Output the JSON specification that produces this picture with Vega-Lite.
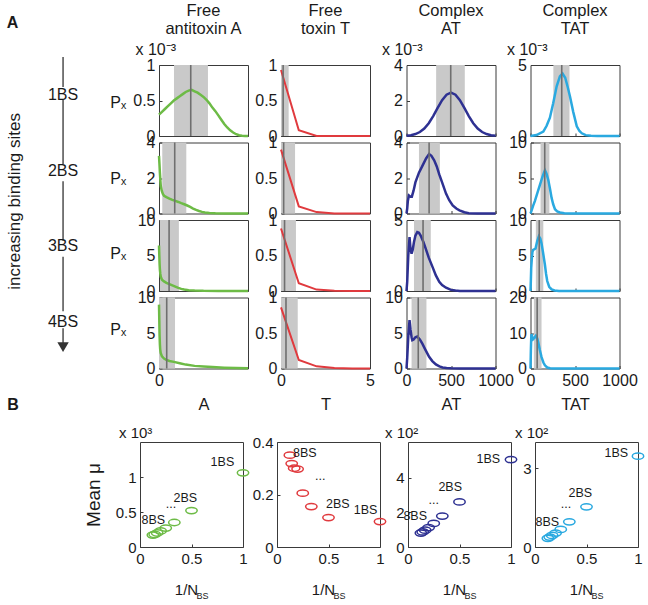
{
"$schema":"https://vega.github.io/schema/vega-lite/v6.json",
"padding":{"left":0,"top":2,"right":0,"bottom":0},
"config":{
 "font":"Liberation Sans",
 "view":{"stroke":"#3a3a3a","strokeWidth":1},
 "axis":{"grid":false,"domain":false,"format":"~r","tickColor":"#3a3a3a","tickSize":-3,"labelPadding":7,"labelFontSize":16,"labelColor":"#1a1a1a","labelFlush":false,"labelOverlap":false,"titleColor":"#1a1a1a","titleFontWeight":"normal","titleFontSize":16.5},
 "title":{"fontSize":16.5,"fontWeight":"normal","color":"#1a1a1a","offset":4,"lineHeight":18},
 "text":{"color":"#1a1a1a"}
},
"datasets":{
 "curves":[
  {"s":"A","n":1,"x":0,"y":0.30},{"s":"A","n":1,"x":100,"y":0.34},{"s":"A","n":1,"x":200,"y":0.38},{"s":"A","n":1,"x":300,"y":0.42},{"s":"A","n":1,"x":400,"y":0.46},{"s":"A","n":1,"x":500,"y":0.50},{"s":"A","n":1,"x":600,"y":0.53},{"s":"A","n":1,"x":700,"y":0.56},{"s":"A","n":1,"x":800,"y":0.59},{"s":"A","n":1,"x":900,"y":0.62},{"s":"A","n":1,"x":1000,"y":0.64},{"s":"A","n":1,"x":1100,"y":0.65},{"s":"A","n":1,"x":1200,"y":0.63},{"s":"A","n":1,"x":1300,"y":0.61},{"s":"A","n":1,"x":1400,"y":0.58},{"s":"A","n":1,"x":1500,"y":0.55},{"s":"A","n":1,"x":1600,"y":0.51},{"s":"A","n":1,"x":1700,"y":0.46},{"s":"A","n":1,"x":1800,"y":0.40},{"s":"A","n":1,"x":1900,"y":0.35},{"s":"A","n":1,"x":2000,"y":0.29},{"s":"A","n":1,"x":2100,"y":0.23},{"s":"A","n":1,"x":2200,"y":0.17},{"s":"A","n":1,"x":2300,"y":0.12},{"s":"A","n":1,"x":2400,"y":0.08},{"s":"A","n":1,"x":2500,"y":0.05},{"s":"A","n":1,"x":2600,"y":0.025},{"s":"A","n":1,"x":2700,"y":0.01},{"s":"A","n":1,"x":2800,"y":0.004},{"s":"A","n":1,"x":2900,"y":0.001},{"s":"A","n":1,"x":3000,"y":0},
  {"s":"A","n":2,"x":0,"y":3.25},{"s":"A","n":2,"x":15,"y":2.8},{"s":"A","n":2,"x":30,"y":2.3},{"s":"A","n":2,"x":45,"y":1.9},{"s":"A","n":2,"x":60,"y":1.55},{"s":"A","n":2,"x":90,"y":1.3},{"s":"A","n":2,"x":130,"y":1.1},{"s":"A","n":2,"x":170,"y":1.0},{"s":"A","n":2,"x":250,"y":0.92},{"s":"A","n":2,"x":350,"y":0.84},{"s":"A","n":2,"x":450,"y":0.77},{"s":"A","n":2,"x":550,"y":0.71},{"s":"A","n":2,"x":650,"y":0.65},{"s":"A","n":2,"x":750,"y":0.58},{"s":"A","n":2,"x":850,"y":0.52},{"s":"A","n":2,"x":950,"y":0.45},{"s":"A","n":2,"x":1050,"y":0.37},{"s":"A","n":2,"x":1150,"y":0.28},{"s":"A","n":2,"x":1250,"y":0.2},{"s":"A","n":2,"x":1350,"y":0.14},{"s":"A","n":2,"x":1450,"y":0.09},{"s":"A","n":2,"x":1550,"y":0.06},{"s":"A","n":2,"x":1700,"y":0.03},{"s":"A","n":2,"x":1900,"y":0.01},{"s":"A","n":2,"x":2200,"y":0},{"s":"A","n":2,"x":3000,"y":0},
  {"s":"A","n":3,"x":0,"y":6.4},{"s":"A","n":3,"x":10,"y":5.0},{"s":"A","n":3,"x":20,"y":3.8},{"s":"A","n":3,"x":30,"y":3.0},{"s":"A","n":3,"x":45,"y":2.4},{"s":"A","n":3,"x":60,"y":2.0},{"s":"A","n":3,"x":100,"y":1.6},{"s":"A","n":3,"x":170,"y":1.35},{"s":"A","n":3,"x":250,"y":1.15},{"s":"A","n":3,"x":350,"y":0.98},{"s":"A","n":3,"x":450,"y":0.8},{"s":"A","n":3,"x":550,"y":0.62},{"s":"A","n":3,"x":650,"y":0.45},{"s":"A","n":3,"x":750,"y":0.3},{"s":"A","n":3,"x":850,"y":0.2},{"s":"A","n":3,"x":1000,"y":0.12},{"s":"A","n":3,"x":1200,"y":0.06},{"s":"A","n":3,"x":1500,"y":0.02},{"s":"A","n":3,"x":2000,"y":0},{"s":"A","n":3,"x":3000,"y":0},
  {"s":"A","n":4,"x":0,"y":9.0},{"s":"A","n":4,"x":5,"y":8.0},{"s":"A","n":4,"x":10,"y":6.8},{"s":"A","n":4,"x":15,"y":5.6},{"s":"A","n":4,"x":20,"y":4.6},{"s":"A","n":4,"x":30,"y":3.4},{"s":"A","n":4,"x":40,"y":2.7},{"s":"A","n":4,"x":57,"y":2.2},{"s":"A","n":4,"x":100,"y":1.7},{"s":"A","n":4,"x":170,"y":1.4},{"s":"A","n":4,"x":250,"y":1.2},{"s":"A","n":4,"x":350,"y":1.05},{"s":"A","n":4,"x":500,"y":0.93},{"s":"A","n":4,"x":700,"y":0.75},{"s":"A","n":4,"x":900,"y":0.55},{"s":"A","n":4,"x":1200,"y":0.37},{"s":"A","n":4,"x":1500,"y":0.28},{"s":"A","n":4,"x":1800,"y":0.2},{"s":"A","n":4,"x":2200,"y":0.12},{"s":"A","n":4,"x":2600,"y":0.06},{"s":"A","n":4,"x":3000,"y":0.03},
  {"s":"T","n":1,"x":0,"y":0.93},{"s":"T","n":1,"x":1,"y":0.08},{"s":"T","n":1,"x":2,"y":0},{"s":"T","n":1,"x":3,"y":0},{"s":"T","n":1,"x":4,"y":0},{"s":"T","n":1,"x":5,"y":0},
  {"s":"T","n":2,"x":0,"y":0.9},{"s":"T","n":2,"x":1,"y":0.1},{"s":"T","n":2,"x":2,"y":0.02},{"s":"T","n":2,"x":3,"y":0},{"s":"T","n":2,"x":4,"y":0},{"s":"T","n":2,"x":5,"y":0},
  {"s":"T","n":3,"x":0,"y":0.88},{"s":"T","n":3,"x":1,"y":0.11},{"s":"T","n":3,"x":2,"y":0.02},{"s":"T","n":3,"x":3,"y":0.005},{"s":"T","n":3,"x":4,"y":0},{"s":"T","n":3,"x":5,"y":0},
  {"s":"T","n":4,"x":0,"y":0.86},{"s":"T","n":4,"x":1,"y":0.12},{"s":"T","n":4,"x":2,"y":0.03},{"s":"T","n":4,"x":3,"y":0.008},{"s":"T","n":4,"x":4,"y":0},{"s":"T","n":4,"x":5,"y":0},
  {"s":"AT","n":1,"x":0,"y":0.019},{"s":"AT","n":1,"x":50,"y":0.047},{"s":"AT","n":1,"x":100,"y":0.108},{"s":"AT","n":1,"x":150,"y":0.224},{"s":"AT","n":1,"x":200,"y":0.42},{"s":"AT","n":1,"x":250,"y":0.72},{"s":"AT","n":1,"x":300,"y":1.12},{"s":"AT","n":1,"x":350,"y":1.58},{"s":"AT","n":1,"x":400,"y":2.02},{"s":"AT","n":1,"x":450,"y":2.33},{"s":"AT","n":1,"x":500,"y":2.45},{"s":"AT","n":1,"x":550,"y":2.33},{"s":"AT","n":1,"x":600,"y":2.02},{"s":"AT","n":1,"x":650,"y":1.58},{"s":"AT","n":1,"x":700,"y":1.12},{"s":"AT","n":1,"x":750,"y":0.72},{"s":"AT","n":1,"x":800,"y":0.42},{"s":"AT","n":1,"x":850,"y":0.224},{"s":"AT","n":1,"x":900,"y":0.108},{"s":"AT","n":1,"x":950,"y":0.047},{"s":"AT","n":1,"x":1000,"y":0.019},
  {"s":"AT","n":2,"x":0,"y":0},{"s":"AT","n":2,"x":8,"y":0.28},{"s":"AT","n":2,"x":15,"y":0.7},{"s":"AT","n":2,"x":27,"y":1.02},{"s":"AT","n":2,"x":45,"y":0.95},{"s":"AT","n":2,"x":60,"y":0.95},{"s":"AT","n":2,"x":80,"y":1.3},{"s":"AT","n":2,"x":100,"y":1.75},{"s":"AT","n":2,"x":140,"y":2.3},{"s":"AT","n":2,"x":180,"y":2.7},{"s":"AT","n":2,"x":220,"y":3.1},{"s":"AT","n":2,"x":254,"y":3.35},{"s":"AT","n":2,"x":280,"y":3.25},{"s":"AT","n":2,"x":311,"y":3.0},{"s":"AT","n":2,"x":340,"y":2.65},{"s":"AT","n":2,"x":368,"y":2.2},{"s":"AT","n":2,"x":400,"y":1.75},{"s":"AT","n":2,"x":444,"y":1.12},{"s":"AT","n":2,"x":480,"y":0.75},{"s":"AT","n":2,"x":519,"y":0.46},{"s":"AT","n":2,"x":560,"y":0.28},{"s":"AT","n":2,"x":595,"y":0.18},{"s":"AT","n":2,"x":650,"y":0.07},{"s":"AT","n":2,"x":700,"y":0.02},{"s":"AT","n":2,"x":800,"y":0},{"s":"AT","n":2,"x":1000,"y":0},
  {"s":"AT","n":3,"x":0,"y":0},{"s":"AT","n":3,"x":8,"y":0.65},{"s":"AT","n":3,"x":20,"y":2.5},{"s":"AT","n":3,"x":34,"y":3.8},{"s":"AT","n":3,"x":45,"y":3.0},{"s":"AT","n":3,"x":57,"y":2.63},{"s":"AT","n":3,"x":70,"y":2.9},{"s":"AT","n":3,"x":84,"y":3.45},{"s":"AT","n":3,"x":100,"y":3.9},{"s":"AT","n":3,"x":121,"y":4.15},{"s":"AT","n":3,"x":140,"y":4.1},{"s":"AT","n":3,"x":159,"y":3.9},{"s":"AT","n":3,"x":190,"y":3.45},{"s":"AT","n":3,"x":216,"y":2.98},{"s":"AT","n":3,"x":250,"y":2.35},{"s":"AT","n":3,"x":292,"y":1.7},{"s":"AT","n":3,"x":330,"y":1.1},{"s":"AT","n":3,"x":368,"y":0.65},{"s":"AT","n":3,"x":400,"y":0.42},{"s":"AT","n":3,"x":444,"y":0.23},{"s":"AT","n":3,"x":500,"y":0.08},{"s":"AT","n":3,"x":550,"y":0.03},{"s":"AT","n":3,"x":600,"y":0},{"s":"AT","n":3,"x":1000,"y":0},
  {"s":"AT","n":4,"x":0,"y":0},{"s":"AT","n":4,"x":8,"y":1.5},{"s":"AT","n":4,"x":20,"y":4.5},{"s":"AT","n":4,"x":34,"y":6.8},{"s":"AT","n":4,"x":45,"y":5.5},{"s":"AT","n":4,"x":57,"y":4.4},{"s":"AT","n":4,"x":65,"y":4.0},{"s":"AT","n":4,"x":80,"y":4.1},{"s":"AT","n":4,"x":100,"y":4.4},{"s":"AT","n":4,"x":121,"y":4.5},{"s":"AT","n":4,"x":150,"y":4.1},{"s":"AT","n":4,"x":178,"y":3.5},{"s":"AT","n":4,"x":210,"y":2.7},{"s":"AT","n":4,"x":254,"y":1.65},{"s":"AT","n":4,"x":290,"y":1.05},{"s":"AT","n":4,"x":330,"y":0.57},{"s":"AT","n":4,"x":370,"y":0.3},{"s":"AT","n":4,"x":405,"y":0.14},{"s":"AT","n":4,"x":450,"y":0.06},{"s":"AT","n":4,"x":500,"y":0.02},{"s":"AT","n":4,"x":600,"y":0},{"s":"AT","n":4,"x":1000,"y":0},
  {"s":"TAT","n":1,"x":0,"y":0},{"s":"TAT","n":1,"x":68,"y":0.07},{"s":"TAT","n":1,"x":144,"y":0.31},{"s":"TAT","n":1,"x":180,"y":0.7},{"s":"TAT","n":1,"x":218,"y":1.29},{"s":"TAT","n":1,"x":255,"y":2.3},{"s":"TAT","n":1,"x":294,"y":3.5},{"s":"TAT","n":1,"x":330,"y":4.2},{"s":"TAT","n":1,"x":360,"y":4.4},{"s":"TAT","n":1,"x":390,"y":4.1},{"s":"TAT","n":1,"x":420,"y":3.4},{"s":"TAT","n":1,"x":445,"y":2.75},{"s":"TAT","n":1,"x":480,"y":1.7},{"s":"TAT","n":1,"x":520,"y":0.68},{"s":"TAT","n":1,"x":550,"y":0.35},{"s":"TAT","n":1,"x":577,"y":0.19},{"s":"TAT","n":1,"x":620,"y":0.06},{"s":"TAT","n":1,"x":680,"y":0.01},{"s":"TAT","n":1,"x":750,"y":0},{"s":"TAT","n":1,"x":1000,"y":0},
  {"s":"TAT","n":2,"x":0,"y":0},{"s":"TAT","n":2,"x":11,"y":0.37},{"s":"TAT","n":2,"x":30,"y":1.1},{"s":"TAT","n":2,"x":49,"y":1.75},{"s":"TAT","n":2,"x":75,"y":2.8},{"s":"TAT","n":2,"x":105,"y":4.0},{"s":"TAT","n":2,"x":135,"y":5.2},{"s":"TAT","n":2,"x":162,"y":6.1},{"s":"TAT","n":2,"x":180,"y":5.6},{"s":"TAT","n":2,"x":200,"y":4.7},{"s":"TAT","n":2,"x":220,"y":3.4},{"s":"TAT","n":2,"x":237,"y":2.2},{"s":"TAT","n":2,"x":255,"y":1.3},{"s":"TAT","n":2,"x":275,"y":0.6},{"s":"TAT","n":2,"x":300,"y":0.3},{"s":"TAT","n":2,"x":331,"y":0.14},{"s":"TAT","n":2,"x":380,"y":0.04},{"s":"TAT","n":2,"x":450,"y":0},{"s":"TAT","n":2,"x":1000,"y":0},
  {"s":"TAT","n":3,"x":0,"y":0},{"s":"TAT","n":3,"x":4,"y":1.5},{"s":"TAT","n":3,"x":8,"y":3.3},{"s":"TAT","n":3,"x":15,"y":4.6},{"s":"TAT","n":3,"x":22,"y":5.5},{"s":"TAT","n":3,"x":30,"y":5.8},{"s":"TAT","n":3,"x":45,"y":5.9},{"s":"TAT","n":3,"x":57,"y":6.0},{"s":"TAT","n":3,"x":75,"y":7.0},{"s":"TAT","n":3,"x":94,"y":7.7},{"s":"TAT","n":3,"x":110,"y":7.4},{"s":"TAT","n":3,"x":124,"y":6.7},{"s":"TAT","n":3,"x":140,"y":5.5},{"s":"TAT","n":3,"x":162,"y":3.7},{"s":"TAT","n":3,"x":175,"y":2.4},{"s":"TAT","n":3,"x":188,"y":1.4},{"s":"TAT","n":3,"x":210,"y":0.6},{"s":"TAT","n":3,"x":237,"y":0.23},{"s":"TAT","n":3,"x":270,"y":0.07},{"s":"TAT","n":3,"x":320,"y":0},{"s":"TAT","n":3,"x":1000,"y":0},
  {"s":"TAT","n":4,"x":0,"y":0},{"s":"TAT","n":4,"x":4,"y":5},{"s":"TAT","n":4,"x":8,"y":8.5},{"s":"TAT","n":4,"x":11,"y":9.7},{"s":"TAT","n":4,"x":20,"y":9.0},{"s":"TAT","n":4,"x":30,"y":8.3},{"s":"TAT","n":4,"x":45,"y":8.7},{"s":"TAT","n":4,"x":60,"y":9.2},{"s":"TAT","n":4,"x":75,"y":8.5},{"s":"TAT","n":4,"x":87,"y":7.4},{"s":"TAT","n":4,"x":105,"y":5.2},{"s":"TAT","n":4,"x":124,"y":3.2},{"s":"TAT","n":4,"x":145,"y":1.7},{"s":"TAT","n":4,"x":162,"y":0.9},{"s":"TAT","n":4,"x":188,"y":0.28},{"s":"TAT","n":4,"x":220,"y":0.08},{"s":"TAT","n":4,"x":260,"y":0.01},{"s":"TAT","n":4,"x":300,"y":0},{"s":"TAT","n":4,"x":1000,"y":0}
 ],
 "stats":[
  {"s":"A","n":1,"lo":505,"mu":1070,"hi":1650},{"s":"A","n":2,"lo":110,"mu":530,"hi":920},{"s":"A","n":3,"lo":34,"mu":340,"hi":670},{"s":"A","n":4,"lo":0,"mu":260,"hi":540},
  {"s":"T","n":1,"lo":0,"mu":0.12,"hi":0.43},{"s":"T","n":2,"lo":0,"mu":0.15,"hi":0.79},{"s":"T","n":3,"lo":0,"mu":0.2,"hi":0.84},{"s":"T","n":4,"lo":0,"mu":0.28,"hi":0.94},
  {"s":"AT","n":1,"lo":333,"mu":497,"hi":655},{"s":"AT","n":2,"lo":140,"mu":254,"hi":375},{"s":"AT","n":3,"lo":84,"mu":186,"hi":273},{"s":"AT","n":4,"lo":57,"mu":132,"hi":224},
  {"s":"TAT","n":1,"lo":257,"mu":351,"hi":438},{"s":"TAT","n":2,"lo":113,"mu":160,"hi":212},{"s":"TAT","n":3,"lo":60,"mu":98,"hi":144},{"s":"TAT","n":4,"lo":38,"mu":75,"hi":124}
 ],
 "means":[
  {"s":"A","inv":1,"mu":1.06},{"s":"A","inv":0.5,"mu":0.52},{"s":"A","inv":0.3333,"mu":0.35},{"s":"A","inv":0.25,"mu":0.27},{"s":"A","inv":0.2,"mu":0.23},{"s":"A","inv":0.1667,"mu":0.2},{"s":"A","inv":0.1429,"mu":0.18},{"s":"A","inv":0.125,"mu":0.17},
  {"s":"T","inv":1,"mu":0.097},{"s":"T","inv":0.5,"mu":0.112},{"s":"T","inv":0.3333,"mu":0.154},{"s":"T","inv":0.25,"mu":0.205},{"s":"T","inv":0.2,"mu":0.297},{"s":"T","inv":0.1667,"mu":0.3},{"s":"T","inv":0.1429,"mu":0.318},{"s":"T","inv":0.125,"mu":0.35},
  {"s":"AT","inv":1,"mu":5.04},{"s":"AT","inv":0.5,"mu":2.6},{"s":"AT","inv":0.3333,"mu":1.78},{"s":"AT","inv":0.25,"mu":1.36},{"s":"AT","inv":0.2,"mu":1.12},{"s":"AT","inv":0.1667,"mu":0.97},{"s":"AT","inv":0.1429,"mu":0.87},{"s":"AT","inv":0.125,"mu":0.8},
  {"s":"TAT","inv":1,"mu":3.46},{"s":"TAT","inv":0.5,"mu":1.53},{"s":"TAT","inv":0.3333,"mu":0.96},{"s":"TAT","inv":0.25,"mu":0.67},{"s":"TAT","inv":0.2,"mu":0.53},{"s":"TAT","inv":0.1667,"mu":0.44},{"s":"TAT","inv":0.1429,"mu":0.38},{"s":"TAT","inv":0.125,"mu":0.33}
 ],
 "blabels":[
  {"s":"A","inv":0.8,"mu":1.21,"t":"1BS"},{"s":"A","inv":0.44,"mu":0.7,"t":"2BS"},{"s":"A","inv":0.3,"mu":0.62,"t":"..."},{"s":"A","inv":0.13,"mu":0.39,"t":"8BS"},
  {"s":"T","inv":0.86,"mu":0.14,"t":"1BS"},{"s":"T","inv":0.59,"mu":0.165,"t":"2BS"},{"s":"T","inv":0.42,"mu":0.27,"t":"..."},{"s":"T","inv":0.27,"mu":0.357,"t":"8BS"},
  {"s":"AT","inv":0.78,"mu":5.06,"t":"1BS"},{"s":"AT","inv":0.41,"mu":3.43,"t":"2BS"},{"s":"AT","inv":0.25,"mu":2.7,"t":"..."},{"s":"AT","inv":0.07,"mu":1.78,"t":"8BS"},
  {"s":"TAT","inv":0.79,"mu":3.58,"t":"1BS"},{"s":"TAT","inv":0.44,"mu":2.06,"t":"2BS"},{"s":"TAT","inv":0.3,"mu":1.62,"t":"..."},{"s":"TAT","inv":0.12,"mu":0.96,"t":"8BS"}
 ],
 "expo":[
  {"s":"A","inv":0,"mu":1.5,"t":"x 10³"},{"s":"AT","inv":0,"mu":6.05,"t":"x 10²"},{"s":"TAT","inv":0,"mu":4,"t":"x 10²"}
 ],
 "segs":[{"r1":0.395,"r2":0.789},{"r1":0.959,"r2":1.811},{"r1":2.034,"r2":2.821},{"r1":3.031,"r2":3.752},{"r1":3.975,"r2":4.172}],
 "rows":[{"n":1,"t":"1BS"},{"n":2,"t":"2BS"},{"n":3,"t":"3BS"},{"n":4,"t":"4BS"}]
},
"spacing":-17,
"vconcat":[
 {"spacing":2,"hconcat":[
  {"width":130,"height":303,"view":{"stroke":null},
   "layer":[
    {"data":{"name":"segs"},"mark":{"type":"rule","color":"#333","strokeWidth":1.3},
     "encoding":{"x":{"datum":0.485,"type":"quantitative","scale":{"domain":[0,1]},"axis":null},"y":{"field":"r1","type":"quantitative","scale":{"domain":[0.5,4.5],"reverse":true},"axis":null},"y2":{"field":"r2"}}},
    {"data":{"values":[{"r":4.225}]},"mark":{"type":"point","shape":"triangle-down","filled":true,"size":130,"color":"#333","opacity":1},
     "encoding":{"x":{"datum":0.485,"type":"quantitative","scale":{"domain":[0,1]}},"y":{"field":"r","type":"quantitative","scale":{"domain":[0.5,4.5],"reverse":true}}}},
    {"data":{"name":"rows"},"mark":{"type":"text","fontSize":16,"dy":-8},
     "encoding":{"x":{"datum":0.485,"type":"quantitative","scale":{"domain":[0,1]}},"y":{"field":"n","type":"quantitative","scale":{"domain":[0.5,4.5],"reverse":true}},"text":{"field":"t"}}},
    {"data":{"name":"rows"},"mark":{"type":"text","fontSize":16},
     "encoding":{"x":{"datum":0.91,"type":"quantitative","scale":{"domain":[0,1]}},"y":{"field":"n","type":"quantitative","scale":{"domain":[0.5,4.5],"reverse":true}},"text":{"value":"Pₓ"}}},
    {"data":{"values":[{"r":2.3,"t":"increasing binding sites"}]},"mark":{"type":"text","fontSize":17,"angle":270},
     "encoding":{"x":{"datum":0.115,"type":"quantitative","scale":{"domain":[0,1]}},"y":{"field":"r","type":"quantitative","scale":{"domain":[0.5,4.5],"reverse":true}},"text":{"field":"t"}}},
    {"data":{"values":[{"r":-0.06,"t":"A"}]},"mark":{"type":"text","fontSize":16,"fontWeight":"bold"},
     "encoding":{"x":{"datum":0.096,"type":"quantitative","scale":{"domain":[0,1]}},"y":{"field":"r","type":"quantitative","scale":{"domain":[0.5,4.5],"reverse":true}},"text":{"field":"t"}}}
   ]},
  {"spacing":5.5,"hconcat":[
   {"spacing":0,"hconcat":[
    {"spacing":6.5,"bounds":"flush","vconcat":[
     {"width":89,"height":71,"title":{"text":["Free","antitoxin A"]},"layer":[
      {"data":{"name":"stats"},"transform":[{"filter":"datum.s=='A'&&datum.n==1"}],"mark":{"type":"rect","color":"#c9c9c9"},"encoding":{"x":{"field":"lo","type":"quantitative","scale":{"domain":[0,3000]},"axis":{"values":[0,1000,2000,3000],"labels":false,"title":null}},"x2":{"field":"hi"}}},
      {"data":{"name":"curves"},"transform":[{"filter":"datum.s=='A'&&datum.n==1"}],"mark":{"type":"line","color":"#6dbb46","strokeWidth":2.5},"encoding":{"x":{"field":"x","type":"quantitative","scale":{"domain":[0,3000]}},"y":{"field":"y","type":"quantitative","scale":{"domain":[0,1]},"axis":{"values":[0,0.5,1],"title":"x 10⁻³","titleAngle":0,"titleAlign":"left","titleBaseline":"alphabetic","titleX":-24,"titleY":-11,"titleFontSize":16}}}},
      {"data":{"name":"stats"},"transform":[{"filter":"datum.s=='A'&&datum.n==1"}],"mark":{"type":"rule","color":"#6f6f6f","strokeWidth":1.6},"encoding":{"x":{"field":"mu","type":"quantitative","scale":{"domain":[0,3000]}}}}
     ]},
     {"width":89,"height":71,"layer":[
      {"data":{"name":"stats"},"transform":[{"filter":"datum.s=='A'&&datum.n==2"}],"mark":{"type":"rect","color":"#c9c9c9"},"encoding":{"x":{"field":"lo","type":"quantitative","scale":{"domain":[0,3000]},"axis":{"values":[0,1000,2000,3000],"labels":false,"title":null}},"x2":{"field":"hi"}}},
      {"data":{"name":"curves"},"transform":[{"filter":"datum.s=='A'&&datum.n==2"}],"mark":{"type":"line","color":"#6dbb46","strokeWidth":2.5},"encoding":{"x":{"field":"x","type":"quantitative","scale":{"domain":[0,3000]}},"y":{"field":"y","type":"quantitative","scale":{"domain":[0,4]},"axis":{"values":[0,2,4],"title":null}}}},
      {"data":{"name":"stats"},"transform":[{"filter":"datum.s=='A'&&datum.n==2"}],"mark":{"type":"rule","color":"#6f6f6f","strokeWidth":1.6},"encoding":{"x":{"field":"mu","type":"quantitative","scale":{"domain":[0,3000]}}}}
     ]},
     {"width":89,"height":71,"layer":[
      {"data":{"name":"stats"},"transform":[{"filter":"datum.s=='A'&&datum.n==3"}],"mark":{"type":"rect","color":"#c9c9c9"},"encoding":{"x":{"field":"lo","type":"quantitative","scale":{"domain":[0,3000]},"axis":{"values":[0,1000,2000,3000],"labels":false,"title":null}},"x2":{"field":"hi"}}},
      {"data":{"name":"curves"},"transform":[{"filter":"datum.s=='A'&&datum.n==3"}],"mark":{"type":"line","color":"#6dbb46","strokeWidth":2.5},"encoding":{"x":{"field":"x","type":"quantitative","scale":{"domain":[0,3000]}},"y":{"field":"y","type":"quantitative","scale":{"domain":[0,10]},"axis":{"values":[0,5,10],"title":null}}}},
      {"data":{"name":"stats"},"transform":[{"filter":"datum.s=='A'&&datum.n==3"}],"mark":{"type":"rule","color":"#6f6f6f","strokeWidth":1.6},"encoding":{"x":{"field":"mu","type":"quantitative","scale":{"domain":[0,3000]}}}}
     ]},
     {"width":89,"height":71,"layer":[
      {"data":{"name":"stats"},"transform":[{"filter":"datum.s=='A'&&datum.n==4"}],"mark":{"type":"rect","color":"#c9c9c9"},"encoding":{"x":{"field":"lo","type":"quantitative","scale":{"domain":[0,3000]},"axis":{"values":[0,1000,2000,3000],"labelExpr":"datum.value==0||datum.value==2000?datum.label:''","title":"A","titlePadding":8}},"x2":{"field":"hi"}}},
      {"data":{"name":"curves"},"transform":[{"filter":"datum.s=='A'&&datum.n==4"}],"mark":{"type":"line","color":"#6dbb46","strokeWidth":2.5},"encoding":{"x":{"field":"x","type":"quantitative","scale":{"domain":[0,3000]}},"y":{"field":"y","type":"quantitative","scale":{"domain":[0,10]},"axis":{"values":[0,5,10],"title":null}}}},
      {"data":{"name":"stats"},"transform":[{"filter":"datum.s=='A'&&datum.n==4"}],"mark":{"type":"rule","color":"#6f6f6f","strokeWidth":1.6},"encoding":{"x":{"field":"mu","type":"quantitative","scale":{"domain":[0,3000]}}}}
     ]}
    ]},
    {"spacing":6.5,"bounds":"flush","vconcat":[
     {"width":89,"height":71,"title":{"text":["Free","toxin T"]},"layer":[
      {"data":{"name":"stats"},"transform":[{"filter":"datum.s=='T'&&datum.n==1"}],"mark":{"type":"rect","color":"#c9c9c9"},"encoding":{"x":{"field":"lo","type":"quantitative","scale":{"domain":[0,5]},"axis":{"values":[0,5],"labels":false,"title":null}},"x2":{"field":"hi"}}},
      {"data":{"name":"curves"},"transform":[{"filter":"datum.s=='T'&&datum.n==1"}],"mark":{"type":"line","color":"#e03a3e","strokeWidth":2},"encoding":{"x":{"field":"x","type":"quantitative","scale":{"domain":[0,5]}},"y":{"field":"y","type":"quantitative","scale":{"domain":[0,1]},"axis":{"values":[0,0.5,1],"title":"x 10⁻³","titleOpacity":0,"titleAngle":0,"titleAlign":"left","titleBaseline":"alphabetic","titleX":-24,"titleY":-11,"titleFontSize":16}}}},
      {"data":{"name":"stats"},"transform":[{"filter":"datum.s=='T'&&datum.n==1"}],"mark":{"type":"rule","color":"#6f6f6f","strokeWidth":1.6},"encoding":{"x":{"field":"mu","type":"quantitative","scale":{"domain":[0,5]}}}}
     ]},
     {"width":89,"height":71,"layer":[
      {"data":{"name":"stats"},"transform":[{"filter":"datum.s=='T'&&datum.n==2"}],"mark":{"type":"rect","color":"#c9c9c9"},"encoding":{"x":{"field":"lo","type":"quantitative","scale":{"domain":[0,5]},"axis":{"values":[0,5],"labels":false,"title":null}},"x2":{"field":"hi"}}},
      {"data":{"name":"curves"},"transform":[{"filter":"datum.s=='T'&&datum.n==2"}],"mark":{"type":"line","color":"#e03a3e","strokeWidth":2},"encoding":{"x":{"field":"x","type":"quantitative","scale":{"domain":[0,5]}},"y":{"field":"y","type":"quantitative","scale":{"domain":[0,1]},"axis":{"values":[0,0.5,1],"title":null}}}},
      {"data":{"name":"stats"},"transform":[{"filter":"datum.s=='T'&&datum.n==2"}],"mark":{"type":"rule","color":"#6f6f6f","strokeWidth":1.6},"encoding":{"x":{"field":"mu","type":"quantitative","scale":{"domain":[0,5]}}}}
     ]},
     {"width":89,"height":71,"layer":[
      {"data":{"name":"stats"},"transform":[{"filter":"datum.s=='T'&&datum.n==3"}],"mark":{"type":"rect","color":"#c9c9c9"},"encoding":{"x":{"field":"lo","type":"quantitative","scale":{"domain":[0,5]},"axis":{"values":[0,5],"labels":false,"title":null}},"x2":{"field":"hi"}}},
      {"data":{"name":"curves"},"transform":[{"filter":"datum.s=='T'&&datum.n==3"}],"mark":{"type":"line","color":"#e03a3e","strokeWidth":2},"encoding":{"x":{"field":"x","type":"quantitative","scale":{"domain":[0,5]}},"y":{"field":"y","type":"quantitative","scale":{"domain":[0,1]},"axis":{"values":[0,0.5,1],"title":null}}}},
      {"data":{"name":"stats"},"transform":[{"filter":"datum.s=='T'&&datum.n==3"}],"mark":{"type":"rule","color":"#6f6f6f","strokeWidth":1.6},"encoding":{"x":{"field":"mu","type":"quantitative","scale":{"domain":[0,5]}}}}
     ]},
     {"width":89,"height":71,"layer":[
      {"data":{"name":"stats"},"transform":[{"filter":"datum.s=='T'&&datum.n==4"}],"mark":{"type":"rect","color":"#c9c9c9"},"encoding":{"x":{"field":"lo","type":"quantitative","scale":{"domain":[0,5]},"axis":{"values":[0,5],"title":"T","titlePadding":8}},"x2":{"field":"hi"}}},
      {"data":{"name":"curves"},"transform":[{"filter":"datum.s=='T'&&datum.n==4"}],"mark":{"type":"line","color":"#e03a3e","strokeWidth":2},"encoding":{"x":{"field":"x","type":"quantitative","scale":{"domain":[0,5]}},"y":{"field":"y","type":"quantitative","scale":{"domain":[0,1]},"axis":{"values":[0,0.5,1],"title":null}}}},
      {"data":{"name":"stats"},"transform":[{"filter":"datum.s=='T'&&datum.n==4"}],"mark":{"type":"rule","color":"#6f6f6f","strokeWidth":1.6},"encoding":{"x":{"field":"mu","type":"quantitative","scale":{"domain":[0,5]}}}}
     ]}
    ]}
   ]},
   {"spacing":-9,"hconcat":[
    {"spacing":6.5,"bounds":"flush","vconcat":[
     {"width":89,"height":71,"title":{"text":["Complex","AT"]},"layer":[
      {"data":{"name":"stats"},"transform":[{"filter":"datum.s=='AT'&&datum.n==1"}],"mark":{"type":"rect","color":"#c9c9c9"},"encoding":{"x":{"field":"lo","type":"quantitative","scale":{"domain":[0,1000]},"axis":{"values":[0,500,1000],"labels":false,"title":null}},"x2":{"field":"hi"}}},
      {"data":{"name":"curves"},"transform":[{"filter":"datum.s=='AT'&&datum.n==1"}],"mark":{"type":"line","color":"#2e3192","strokeWidth":2.5},"encoding":{"x":{"field":"x","type":"quantitative","scale":{"domain":[0,1000]}},"y":{"field":"y","type":"quantitative","scale":{"domain":[0,4]},"axis":{"values":[0,2,4],"title":"x 10⁻³","titleAngle":0,"titleAlign":"left","titleBaseline":"alphabetic","titleX":-25,"titleY":-11,"titleFontSize":16}}}},
      {"data":{"name":"stats"},"transform":[{"filter":"datum.s=='AT'&&datum.n==1"}],"mark":{"type":"rule","color":"#6f6f6f","strokeWidth":1.6},"encoding":{"x":{"field":"mu","type":"quantitative","scale":{"domain":[0,1000]}}}}
     ]},
     {"width":89,"height":71,"layer":[
      {"data":{"name":"stats"},"transform":[{"filter":"datum.s=='AT'&&datum.n==2"}],"mark":{"type":"rect","color":"#c9c9c9"},"encoding":{"x":{"field":"lo","type":"quantitative","scale":{"domain":[0,1000]},"axis":{"values":[0,500,1000],"labels":false,"title":null}},"x2":{"field":"hi"}}},
      {"data":{"name":"curves"},"transform":[{"filter":"datum.s=='AT'&&datum.n==2"}],"mark":{"type":"line","color":"#2e3192","strokeWidth":2.5},"encoding":{"x":{"field":"x","type":"quantitative","scale":{"domain":[0,1000]}},"y":{"field":"y","type":"quantitative","scale":{"domain":[0,4]},"axis":{"values":[0,2,4],"title":null}}}},
      {"data":{"name":"stats"},"transform":[{"filter":"datum.s=='AT'&&datum.n==2"}],"mark":{"type":"rule","color":"#6f6f6f","strokeWidth":1.6},"encoding":{"x":{"field":"mu","type":"quantitative","scale":{"domain":[0,1000]}}}}
     ]},
     {"width":89,"height":71,"layer":[
      {"data":{"name":"stats"},"transform":[{"filter":"datum.s=='AT'&&datum.n==3"}],"mark":{"type":"rect","color":"#c9c9c9"},"encoding":{"x":{"field":"lo","type":"quantitative","scale":{"domain":[0,1000]},"axis":{"values":[0,500,1000],"labels":false,"title":null}},"x2":{"field":"hi"}}},
      {"data":{"name":"curves"},"transform":[{"filter":"datum.s=='AT'&&datum.n==3"}],"mark":{"type":"line","color":"#2e3192","strokeWidth":2.5},"encoding":{"x":{"field":"x","type":"quantitative","scale":{"domain":[0,1000]}},"y":{"field":"y","type":"quantitative","scale":{"domain":[0,5]},"axis":{"values":[0,5],"title":null}}}},
      {"data":{"name":"stats"},"transform":[{"filter":"datum.s=='AT'&&datum.n==3"}],"mark":{"type":"rule","color":"#6f6f6f","strokeWidth":1.6},"encoding":{"x":{"field":"mu","type":"quantitative","scale":{"domain":[0,1000]}}}}
     ]},
     {"width":89,"height":71,"layer":[
      {"data":{"name":"stats"},"transform":[{"filter":"datum.s=='AT'&&datum.n==4"}],"mark":{"type":"rect","color":"#c9c9c9"},"encoding":{"x":{"field":"lo","type":"quantitative","scale":{"domain":[0,1000]},"axis":{"values":[0,500,1000],"title":"AT","titlePadding":8}},"x2":{"field":"hi"}}},
      {"data":{"name":"curves"},"transform":[{"filter":"datum.s=='AT'&&datum.n==4"}],"mark":{"type":"line","color":"#2e3192","strokeWidth":2.5},"encoding":{"x":{"field":"x","type":"quantitative","scale":{"domain":[0,1000]}},"y":{"field":"y","type":"quantitative","scale":{"domain":[0,10]},"axis":{"values":[0,5,10],"title":null}}}},
      {"data":{"name":"stats"},"transform":[{"filter":"datum.s=='AT'&&datum.n==4"}],"mark":{"type":"rule","color":"#6f6f6f","strokeWidth":1.6},"encoding":{"x":{"field":"mu","type":"quantitative","scale":{"domain":[0,1000]}}}}
     ]}
    ]},
    {"spacing":6.5,"bounds":"flush","vconcat":[
     {"width":89,"height":71,"title":{"text":["Complex","TAT"]},"layer":[
      {"data":{"name":"stats"},"transform":[{"filter":"datum.s=='TAT'&&datum.n==1"}],"mark":{"type":"rect","color":"#c9c9c9"},"encoding":{"x":{"field":"lo","type":"quantitative","scale":{"domain":[0,1000]},"axis":{"values":[0,500,1000],"labels":false,"title":null}},"x2":{"field":"hi"}}},
      {"data":{"name":"curves"},"transform":[{"filter":"datum.s=='TAT'&&datum.n==1"}],"mark":{"type":"line","color":"#2aa9e0","strokeWidth":2.5},"encoding":{"x":{"field":"x","type":"quantitative","scale":{"domain":[0,1000]}},"y":{"field":"y","type":"quantitative","scale":{"domain":[0,5]},"axis":{"values":[0,5],"title":"x 10⁻³","titleAngle":0,"titleAlign":"left","titleBaseline":"alphabetic","titleX":-24,"titleY":-11,"titleFontSize":16}}}},
      {"data":{"name":"stats"},"transform":[{"filter":"datum.s=='TAT'&&datum.n==1"}],"mark":{"type":"rule","color":"#6f6f6f","strokeWidth":1.6},"encoding":{"x":{"field":"mu","type":"quantitative","scale":{"domain":[0,1000]}}}}
     ]},
     {"width":89,"height":71,"layer":[
      {"data":{"name":"stats"},"transform":[{"filter":"datum.s=='TAT'&&datum.n==2"}],"mark":{"type":"rect","color":"#c9c9c9"},"encoding":{"x":{"field":"lo","type":"quantitative","scale":{"domain":[0,1000]},"axis":{"values":[0,500,1000],"labels":false,"title":null}},"x2":{"field":"hi"}}},
      {"data":{"name":"curves"},"transform":[{"filter":"datum.s=='TAT'&&datum.n==2"}],"mark":{"type":"line","color":"#2aa9e0","strokeWidth":2.5},"encoding":{"x":{"field":"x","type":"quantitative","scale":{"domain":[0,1000]}},"y":{"field":"y","type":"quantitative","scale":{"domain":[0,10]},"axis":{"values":[0,5,10],"title":null}}}},
      {"data":{"name":"stats"},"transform":[{"filter":"datum.s=='TAT'&&datum.n==2"}],"mark":{"type":"rule","color":"#6f6f6f","strokeWidth":1.6},"encoding":{"x":{"field":"mu","type":"quantitative","scale":{"domain":[0,1000]}}}}
     ]},
     {"width":89,"height":71,"layer":[
      {"data":{"name":"stats"},"transform":[{"filter":"datum.s=='TAT'&&datum.n==3"}],"mark":{"type":"rect","color":"#c9c9c9"},"encoding":{"x":{"field":"lo","type":"quantitative","scale":{"domain":[0,1000]},"axis":{"values":[0,500,1000],"labels":false,"title":null}},"x2":{"field":"hi"}}},
      {"data":{"name":"curves"},"transform":[{"filter":"datum.s=='TAT'&&datum.n==3"}],"mark":{"type":"line","color":"#2aa9e0","strokeWidth":2.5},"encoding":{"x":{"field":"x","type":"quantitative","scale":{"domain":[0,1000]}},"y":{"field":"y","type":"quantitative","scale":{"domain":[0,10]},"axis":{"values":[0,5,10],"title":null}}}},
      {"data":{"name":"stats"},"transform":[{"filter":"datum.s=='TAT'&&datum.n==3"}],"mark":{"type":"rule","color":"#6f6f6f","strokeWidth":1.6},"encoding":{"x":{"field":"mu","type":"quantitative","scale":{"domain":[0,1000]}}}}
     ]},
     {"width":89,"height":71,"layer":[
      {"data":{"name":"stats"},"transform":[{"filter":"datum.s=='TAT'&&datum.n==4"}],"mark":{"type":"rect","color":"#c9c9c9"},"encoding":{"x":{"field":"lo","type":"quantitative","scale":{"domain":[0,1000]},"axis":{"values":[0,500,1000],"title":"TAT","titlePadding":8}},"x2":{"field":"hi"}}},
      {"data":{"name":"curves"},"transform":[{"filter":"datum.s=='TAT'&&datum.n==4"}],"mark":{"type":"line","color":"#2aa9e0","strokeWidth":2.5},"encoding":{"x":{"field":"x","type":"quantitative","scale":{"domain":[0,1000]}},"y":{"field":"y","type":"quantitative","scale":{"domain":[0,20]},"axis":{"values":[0,10,20],"title":null}}}},
      {"data":{"name":"stats"},"transform":[{"filter":"datum.s=='TAT'&&datum.n==4"}],"mark":{"type":"rule","color":"#6f6f6f","strokeWidth":1.6},"encoding":{"x":{"field":"mu","type":"quantitative","scale":{"domain":[0,1000]}}}}
     ]}
    ]}
   ]}
  ]}
 ]},
 {"spacing":63,"hconcat":[
  {"width":20,"height":105,"view":{"stroke":null},
   "data":{"values":[{"u":0.65,"v":1.352,"t":"B"}]},
   "mark":{"type":"text","fontSize":16,"fontWeight":"bold"},
   "encoding":{"x":{"field":"u","type":"quantitative","scale":{"domain":[0,1]},"axis":null},"y":{"field":"v","type":"quantitative","scale":{"domain":[0,1]},"axis":null},"text":{"field":"t"}}},
  {"spacing":-6,"hconcat":[
   {"spacing":-2,"hconcat":[
    {"width":103,"height":105,"title":{"text":"BS","orient":"bottom","anchor":"middle","fontSize":9,"dx":11,"offset":-5},"layer":[
     {"data":{"name":"means"},"transform":[{"filter":"datum.s=='A'"}],"mark":{"type":"point","shape":"M-1,0A1,0.55 0 1,0 1,0A1,0.55 0 1,0 -1,0Z","filled":false,"strokeWidth":1.5,"color":"#6dbb46","size":130,"opacity":1},
      "encoding":{"x":{"field":"inv","type":"quantitative","scale":{"domain":[0,1]},"axis":{"values":[0,0.5,1],"labelFontSize":15,"title":"1/N","titleFontSize":15,"titlePadding":16,"titleX":46}},"y":{"field":"mu","type":"quantitative","scale":{"domain":[0,1.5]},"axis":{"values":[0,0.5,1],"labelFontSize":15,"title":"Mean μ","titleFontSize":19,"titlePadding":12}}}},
     {"data":{"name":"blabels"},"transform":[{"filter":"datum.s=='A'"}],"mark":{"type":"text","fontSize":12.5},"encoding":{"x":{"field":"inv","type":"quantitative","scale":{"domain":[0,1]}},"y":{"field":"mu","type":"quantitative","scale":{"domain":[0,1.5]}},"text":{"field":"t"}}},
     {"data":{"name":"expo"},"transform":[{"filter":"datum.s=='A'"}],"mark":{"type":"text","fontSize":15,"align":"left","baseline":"alphabetic","dx":-21,"dy":-4},"encoding":{"x":{"field":"inv","type":"quantitative","scale":{"domain":[0,1]}},"y":{"field":"mu","type":"quantitative","scale":{"domain":[0,1.5]}},"text":{"field":"t"}}}
    ]},
    {"width":103,"height":105,"title":{"text":"BS","orient":"bottom","anchor":"middle","fontSize":9,"dx":11,"offset":-5},"layer":[
     {"data":{"name":"means"},"transform":[{"filter":"datum.s=='T'"}],"mark":{"type":"point","shape":"M-1,0A1,0.55 0 1,0 1,0A1,0.55 0 1,0 -1,0Z","filled":false,"strokeWidth":1.5,"color":"#e03a3e","size":130,"opacity":1},
      "encoding":{"x":{"field":"inv","type":"quantitative","scale":{"domain":[0,1]},"axis":{"values":[0,0.5,1],"labelFontSize":15,"title":"1/N","titleFontSize":15,"titlePadding":16,"titleX":46}},"y":{"field":"mu","type":"quantitative","scale":{"domain":[0,0.4]},"axis":{"values":[0,0.1,0.2,0.3,0.4],"labelExpr":"datum.value==0.1||datum.value==0.3?'':datum.label","labelFontSize":15,"title":null}}}},
     {"data":{"name":"blabels"},"transform":[{"filter":"datum.s=='T'"}],"mark":{"type":"text","fontSize":12.5},"encoding":{"x":{"field":"inv","type":"quantitative","scale":{"domain":[0,1]}},"y":{"field":"mu","type":"quantitative","scale":{"domain":[0,0.4]}},"text":{"field":"t"}}}
    ]}
   ]},
   {"spacing":-7,"hconcat":[
    {"width":103,"height":105,"title":{"text":"BS","orient":"bottom","anchor":"middle","fontSize":9,"dx":11,"offset":-5},"layer":[
     {"data":{"name":"means"},"transform":[{"filter":"datum.s=='AT'"}],"mark":{"type":"point","shape":"M-1,0A1,0.55 0 1,0 1,0A1,0.55 0 1,0 -1,0Z","filled":false,"strokeWidth":1.5,"color":"#2e3192","size":130,"opacity":1},
      "encoding":{"x":{"field":"inv","type":"quantitative","scale":{"domain":[0,1]},"axis":{"values":[0,0.5,1],"labelFontSize":15,"title":"1/N","titleFontSize":15,"titlePadding":16,"titleX":46}},"y":{"field":"mu","type":"quantitative","scale":{"domain":[0,6.05]},"axis":{"values":[0,2,4],"labelFontSize":15,"title":null}}}},
     {"data":{"name":"blabels"},"transform":[{"filter":"datum.s=='AT'"}],"mark":{"type":"text","fontSize":12.5},"encoding":{"x":{"field":"inv","type":"quantitative","scale":{"domain":[0,1]}},"y":{"field":"mu","type":"quantitative","scale":{"domain":[0,6.05]}},"text":{"field":"t"}}},
     {"data":{"name":"expo"},"transform":[{"filter":"datum.s=='AT'"}],"mark":{"type":"text","fontSize":15,"align":"left","baseline":"alphabetic","dx":-23,"dy":-4},"encoding":{"x":{"field":"inv","type":"quantitative","scale":{"domain":[0,1]}},"y":{"field":"mu","type":"quantitative","scale":{"domain":[0,6.05]}},"text":{"field":"t"}}}
    ]},
    {"width":103,"height":105,"title":{"text":"BS","orient":"bottom","anchor":"middle","fontSize":9,"dx":11,"offset":-5},"layer":[
     {"data":{"name":"means"},"transform":[{"filter":"datum.s=='TAT'"}],"mark":{"type":"point","shape":"M-1,0A1,0.55 0 1,0 1,0A1,0.55 0 1,0 -1,0Z","filled":false,"strokeWidth":1.5,"color":"#2aa9e0","size":130,"opacity":1},
      "encoding":{"x":{"field":"inv","type":"quantitative","scale":{"domain":[0,1]},"axis":{"values":[0,0.5,1],"labelFontSize":15,"title":"1/N","titleFontSize":15,"titlePadding":16,"titleX":46}},"y":{"field":"mu","type":"quantitative","scale":{"domain":[0,4]},"axis":{"values":[0,1,2,3],"labelFontSize":15,"title":null}}}},
     {"data":{"name":"blabels"},"transform":[{"filter":"datum.s=='TAT'"}],"mark":{"type":"text","fontSize":12.5},"encoding":{"x":{"field":"inv","type":"quantitative","scale":{"domain":[0,1]}},"y":{"field":"mu","type":"quantitative","scale":{"domain":[0,4]}},"text":{"field":"t"}}},
     {"data":{"name":"expo"},"transform":[{"filter":"datum.s=='TAT'"}],"mark":{"type":"text","fontSize":15,"align":"left","baseline":"alphabetic","dx":-20,"dy":-4},"encoding":{"x":{"field":"inv","type":"quantitative","scale":{"domain":[0,1]}},"y":{"field":"mu","type":"quantitative","scale":{"domain":[0,4]}},"text":{"field":"t"}}}
    ]}
   ]}
  ]}
 ]}
]
}
